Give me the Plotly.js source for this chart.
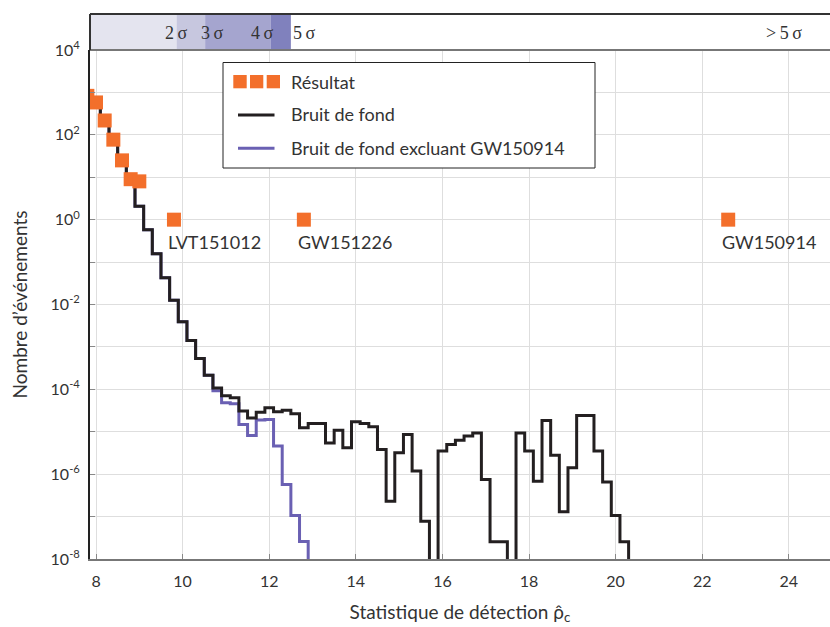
<!DOCTYPE html>
<html>
<head>
<meta charset="utf-8">
<script src="https://cdn.plot.ly/plotly-3.0.1.min.js"></script>
<style>html,body{margin:0;padding:0;background:#fff;}#chart{width:830px;height:627px;}</style>
</head>
<body>
<div id="chart"></div>
<script>
// ---- Data ----
// Background histogram (bin left edges, counts; 0 = empty bin)
const bgEdges = [7.9, 8.1, 8.3, 8.5, 8.7, 8.9, 9.1, 9.3, 9.5, 9.7, 9.9, 10.1, 10.3, 10.5, 10.7, 10.9, 11.1, 11.3, 11.5, 11.7, 11.9, 12.1, 12.3, 12.5, 12.7, 12.9, 13.1, 13.3, 13.5, 13.7, 13.9, 14.1, 14.3, 14.5, 14.7, 14.9, 15.1, 15.3, 15.5, 15.7, 15.9, 16.1, 16.3, 16.5, 16.7, 16.9, 17.1, 17.3, 17.5, 17.7, 17.9, 18.1, 18.3, 18.5, 18.7, 18.9, 19.1, 19.3, 19.5, 19.7, 19.9, 20.1, 20.3];
const bgCounts = [740, 214, 76, 25, 8.3, 2.06, 0.58, 0.158, 0.043, 0.0126, 0.0039, 1.41e-3, 5.3e-4, 2.15e-4, 1.08e-4, 7.1e-5, 6.3e-5, 3.1e-5, 2.1e-5, 2.9e-5, 3.7e-5, 2.95e-5, 3.2e-5, 2.65e-5, 1.24e-5, 1.56e-5, 1.56e-5, 5.4e-6, 1.09e-5, 4.2e-6, 1.71e-5, 1.56e-5, 1.31e-5, 3.8e-6, 2.3e-7, 3.2e-6, 8.6e-6, 1.18e-6, 7.8e-8, 0, 3.5e-6, 5.0e-6, 6.3e-6, 7.9e-6, 9.4e-6, 7.5e-7, 2.55e-8, 2.55e-8, 0, 9.4e-6, 3.5e-6, 6.8e-7, 1.84e-5, 2.8e-6, 1.3e-7, 1.41e-6, 2.4e-5, 2.4e-5, 3.5e-6, 6.5e-7, 1.06e-7, 2.55e-8, 0];
// Background excluding GW150914
const bgExEdges = [7.9, 8.1, 8.3, 8.5, 8.7, 8.9, 9.1, 9.3, 9.5, 9.7, 9.9, 10.1, 10.3, 10.5, 10.7, 10.9, 11.1, 11.3, 11.5, 11.7, 11.9, 12.1, 12.3, 12.5, 12.7, 12.9];
const bgExCounts = [740, 214, 76, 25, 8.3, 2.06, 0.58, 0.158, 0.043, 0.0126, 0.0039, 1.41e-3, 5.3e-4, 2.15e-4, 9.3e-5, 4.8e-5, 4.6e-5, 1.48e-5, 8.2e-6, 1.89e-5, 1.95e-5, 4.6e-6, 5.7e-7, 1.06e-7, 2.6e-8, 0];
// Observed results
const resX = [7.8, 8.0, 8.2, 8.4, 8.6, 8.8, 9.0, 9.8, 12.8, 22.6];
const resY = [830, 580, 218, 77, 25, 9, 8, 1, 1, 1];
// Named events
const evNames = ['LVT151012', 'GW151226', 'GW150914'];
const evX = [9.8, 12.8, 22.6];
const evY = [1, 1, 1];
// Significance bands
const sigmaEdges = [9.86, 10.52, 12.03, 12.50];
const sigmaColors = ['#e4e4ef', '#c7c7df', '#a5a5cf', '#8081bd'];
const sigmaLabels = ['2\u2009\u03c3', '3\u2009\u03c3', '4\u2009\u03c3', '5\u2009\u03c3', '>\u20095\u2009\u03c3'];
const sigmaLabelX = [9.85, 10.70, 11.85, 12.81, 23.90];
// Axis ticks
const xTicks = [8, 10, 12, 14, 16, 18, 20, 22, 24];
const yLabelExps = [-8, -6, -4, -2, 0, 2, 4];
const yMinorExps = [-7, -5, -3, -1, 1, 3];

// ---- Build ----
const FLOOR = 1e-12;
const floorZero = a => a.map(v => v > 0 ? v : FLOOR);
const xRange = [7.861, 24.951];
const FONT = 'Lato, "Open Sans", sans-serif';
const TXT = '#333333';
const W = 830, H = 627, ML = 90, MT = 14, MB = 68;
const plotH = H - MT - MB; // 545
const mainTopPx = 50;
const yDomTop = (H - MB - mainTopPx) / plotH;
const px2x = px => (px - ML) / (W - ML);
const py2y = py => (H - MB - py) / plotH;

const traces = [
  {x: bgExEdges, y: floorZero(bgExCounts), mode: 'lines', line: {shape: 'hv', color: '#6a60b3', width: 3},
   name: 'Bruit de fond excluant GW150914', showlegend: false, hoverinfo: 'skip'},
  {x: bgEdges, y: floorZero(bgCounts), mode: 'lines', line: {shape: 'hv', color: '#231f20', width: 3},
   name: 'Bruit de fond', showlegend: false, hoverinfo: 'skip'},
  {x: resX, y: resY, mode: 'markers', marker: {symbol: 'square', size: 14, color: '#f36f2b', line: {width: 0}},
   name: 'Résultat', showlegend: false, hoverinfo: 'skip'}
];

const shapes = [];
let prev = xRange[0];
sigmaEdges.forEach((e, i) => {
  shapes.push({type: 'rect', xref: 'x', yref: 'paper', x0: prev, x1: e, y0: yDomTop, y1: 1,
    fillcolor: sigmaColors[i], line: {width: 0}, layer: 'below'});
  prev = e;
});
shapes.push({type: 'line', xref: 'paper', yref: 'paper', x0: 0, x1: 1, y0: 1, y1: 1, line: {color: '#333', width: 2}});
shapes.push({type: 'line', xref: 'paper', yref: 'paper', x0: 0, x1: 1, y0: yDomTop, y1: yDomTop, line: {color: '#777', width: 2}});
shapes.push({type: 'line', xref: 'paper', yref: 'paper', x0: 0, x1: 0, y0: yDomTop, y1: 1, line: {color: '#333', width: 2}});

// Manual legend
shapes.push({type: 'rect', xref: 'paper', yref: 'paper', x0: px2x(223), x1: px2x(595), y0: py2y(168), y1: py2y(62.5),
  fillcolor: '#ffffff', line: {color: '#222', width: 1}});
[[233.3, 246.7], [250, 263.3], [266.7, 280]].forEach(s => {
  shapes.push({type: 'rect', xref: 'paper', yref: 'paper', x0: px2x(s[0]), x1: px2x(s[1]), y0: py2y(88.3), y1: py2y(75),
    fillcolor: '#f36f2b', line: {width: 0}});
});
shapes.push({type: 'line', xref: 'paper', yref: 'paper', x0: px2x(238), x1: px2x(274.5), y0: py2y(115), y1: py2y(115), line: {color: '#231f20', width: 3}});
shapes.push({type: 'line', xref: 'paper', yref: 'paper', x0: px2x(238), x1: px2x(274.5), y0: py2y(148.3), y1: py2y(148.3), line: {color: '#6a60b3', width: 3}});

const annotations = [];
[['Résultat', 81.5], ['Bruit de fond', 114.5], ['Bruit de fond excluant GW150914', 148]].forEach(t => {
  annotations.push({text: t[0], xref: 'paper', yref: 'paper', x: px2x(289), y: py2y(t[1]), xanchor: 'left', yanchor: 'middle',
    showarrow: false, font: {family: FONT, size: 18, color: TXT}});
});
evNames.forEach((n, i) => {
  annotations.push({text: n, xref: 'x', yref: 'y', x: evX[i], y: Math.log10(evY[i]), xanchor: 'left', yanchor: 'middle',
    xshift: -8, yshift: -22, showarrow: false, font: {family: FONT, size: 18, color: TXT}});
});
sigmaLabels.forEach((s, i) => {
  annotations.push({text: s, xref: 'x', yref: 'paper', x: sigmaLabelX[i], y: py2y(33), xanchor: 'center', yanchor: 'middle',
    showarrow: false, font: {family: '"Liberation Serif", "DejaVu Serif", serif', size: 18, color: TXT}});
});

const gridC = '#dedede';
const layout = {
  width: W, height: H,
  margin: {l: ML, r: 0, t: MT, b: MB, pad: 0},
  paper_bgcolor: '#ffffff', plot_bgcolor: '#ffffff',
  showlegend: false,
  font: {family: FONT, color: TXT},
  xaxis: {
    range: xRange, tickmode: 'array', tickvals: xTicks, ticktext: xTicks.map(String),
    showgrid: true, gridcolor: gridC, gridwidth: 1, zeroline: false,
    ticks: 'inside', ticklen: 5, tickcolor: '#888', tickwidth: 1,
    showline: true, linecolor: '#777', linewidth: 2,
    ticklabelstandoff: 7,
    tickfont: {family: FONT, size: 16, color: TXT},
    title: {text: 'Statistique de détection \u03c1\u0302<sub>c</sub>', font: {family: FONT, size: 19, color: TXT}, standoff: 16}
  },
  yaxis: {
    type: 'log', range: [-8, 4], domain: [0, yDomTop],
    tickmode: 'array',
    tickvals: yLabelExps.map(e => Math.pow(10, e)),
    ticktext: yLabelExps.map(e => '10<sup>' + e + '</sup>'),
    minor: {tickmode: 'array', tickvals: yMinorExps.map(e => Math.pow(10, e)), ticks: 'inside', ticklen: 5,
            tickcolor: '#888', tickwidth: 1, showgrid: true, gridcolor: gridC, gridwidth: 1},
    showgrid: true, gridcolor: gridC, gridwidth: 1, zeroline: false,
    ticks: 'inside', ticklen: 5, tickcolor: '#888', tickwidth: 1,
    showline: true, linecolor: '#222', linewidth: 2,
    ticklabelstandoff: 5,
    tickfont: {family: FONT, size: 16, color: TXT},
    title: {text: 'Nombre d’événements', font: {family: FONT, size: 19, color: TXT}, standoff: 18}
  },
  shapes: shapes,
  annotations: annotations
};

Plotly.newPlot('chart', traces, layout, {staticPlot: true, displayModeBar: false});
</script>
</body>
</html>
